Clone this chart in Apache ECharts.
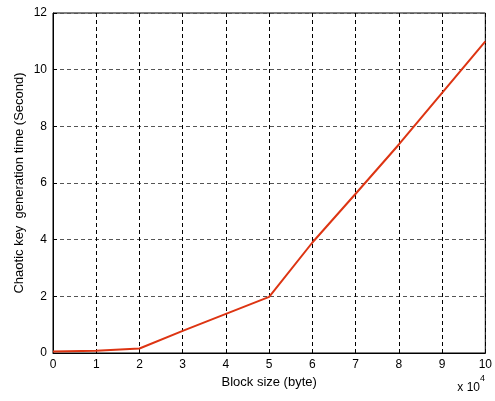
<!DOCTYPE html>
<html>
<head>
<meta charset="utf-8">
<script src="https://cdn.jsdelivr.net/npm/echarts@6/dist/echarts.min.js"></script>
<style>
  html, body { margin: 0; padding: 0; background: #fff; }
  #chart { width: 495px; height: 401px; }
</style>
</head>
<body>
<div id="chart"></div>
<script>
// Block size in units of 10^4 bytes
const blockSize = [0, 1, 2, 3, 4, 5, 6, 7, 8, 9, 10];
// Chaotic key generation time in seconds
const keyTime = [0.05, 0.08, 0.16, 0.78, 1.38, 1.98, 3.9, 5.62, 7.36, 9.18, 11.0];

const font = 'Liberation Sans, Arial, sans-serif';
const chart = echarts.init(document.getElementById('chart'));

chart.setOption({
  animation: false,
  backgroundColor: '#fff',
  grid: {
    left: 53, right: 7, top: 13, bottom: 48,
    show: true, borderColor: '#000', borderWidth: 1, backgroundColor: '#fff'
  },
  xAxis: {
    type: 'value',
    min: 0, max: 10, interval: 1,
    name: 'Block size (byte)',
    nameLocation: 'middle',
    nameGap: 21,
    nameTextStyle: { color: '#000', fontSize: 13, fontFamily: font },
    axisLine: { show: true, lineStyle: { color: '#000', width: 1 } },
    axisTick: { show: true, inside: true, length: 4, lineStyle: { color: '#000' } },
    axisLabel: { color: '#000', fontSize: 12, fontFamily: font, margin: 6 },
    splitLine: { show: true, lineStyle: { color: '#000', type: [4, 3], width: 1 } }
  },
  yAxis: {
    type: 'value',
    min: 0, max: 12, interval: 2,
    name: 'Chaotic key  generation time (Second)',
    nameLocation: 'middle',
    nameGap: 27,
    nameMoveOverlap: false,
    nameTextStyle: { color: '#000', fontSize: 13, fontFamily: font },
    axisLine: { show: true, lineStyle: { color: '#000', width: 1 } },
    axisTick: { show: true, inside: true, length: 4, lineStyle: { color: '#000' } },
    axisLabel: { color: '#000', fontSize: 12, fontFamily: font, margin: 6 },
    splitLine: { show: true, lineStyle: { color: '#555', type: [4, 3], width: 1 } }
  },
  graphic: [{
    type: 'text',
    right: 10, top: 374,
    style: {
      text: '{b|x 10}{s|4}',
      rich: {
        b: { fontSize: 12, fontFamily: font, fill: '#000', padding: [8, 0, 0, 0] },
        s: { fontSize: 9, fontFamily: font, fill: '#000', verticalAlign: 'top' }
      }
    }
  }],
  series: [{
    type: 'line',
    data: blockSize.map((x, i) => [x, keyTime[i]]),
    showSymbol: false,
    lineStyle: { color: '#dd3412', width: 2 },
    itemStyle: { color: '#dd3412' }
  }]
});
</script>
</body>
</html>
